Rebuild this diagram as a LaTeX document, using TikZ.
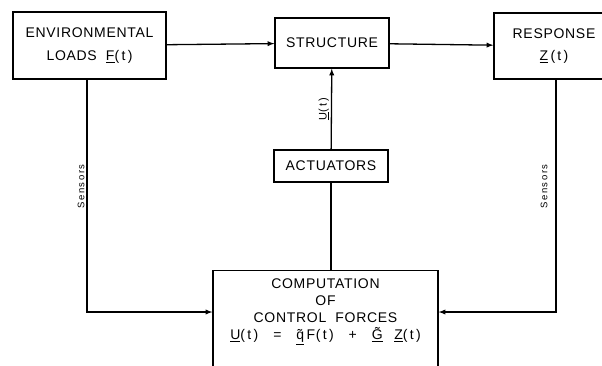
\documentclass[tikz,border=0pt]{standalone}
\usepackage{fontspec}
\setmainfont{Liberation Sans}[LetterSpace=5]
\newfontfamily\sensfont{Liberation Sans}[LetterSpace=16]
\newcommand{\ut}{\underline{U}(\,t\,)}
\newcommand{\gap}{\hspace{15pt}}

\begin{document}
\begin{tikzpicture}[x=1pt,y=-1pt,>=latex,line width=1.3pt,
  blk/.style={draw,font=\fontsize{14}{17}\selectfont,align=center,inner sep=0pt},
  small/.style={font=\sensfont\fontsize{9.5}{11}\selectfont,inner sep=2pt}]
  \useasboundingbox (0,0) rectangle (602,365);
  \clip (0,0) rectangle (602,365);
  \node[blk,minimum width=153,minimum height=67] (env) at (89.5,45.5)
    {ENVIRONMENTAL\\[6pt]LOADS\ \ \underline{F}(\,t\,)};
  \node[blk,minimum width=114,minimum height=50] (str) at (332,43) {STRUCTURE};
  \node[blk,minimum width=120,minimum height=66] (resp) at (554,46)
    {RESPONSE\\[5pt]\underline{Z}\,(\,t\,)};
  \node[blk,minimum width=114,minimum height=32] (act) at (331,166) {ACTUATORS};
  \node[blk,anchor=north,minimum width=225,inner ysep=8pt,text depth=84pt] (comp) at (325.5,270)
    {COMPUTATION\\OF\\CONTROL\ \ FORCES\\
     \ut\gap=\gap\underline{\~{q}}\,F(\,t\,)\gap+\gap\underline{\~{G}}\ \ \,\underline{Z}(\,t\,)};
  % signal paths
  \draw[->] (env) -- (str);
  \draw[->] (str) -- (resp);
  \draw[->] (act) -- node[small,anchor=south,rotate=90,font=\sensfont\fontsize{11}{12}\selectfont]{\ut} (str);
  \draw (comp.north -| act) -- (act);
  \draw[->] ([xshift=-2.5pt]env.south) |- node[small,pos=0.23,anchor=south,rotate=90]{Sensors}
    ([yshift=-42pt]comp.north west);
  \draw[->] ([xshift=2pt]resp.south) |- node[small,pos=0.23,anchor=south,rotate=90,yshift=6pt]{Sensors}
    ([yshift=-42pt]comp.north east);
\end{tikzpicture}
\end{document}
